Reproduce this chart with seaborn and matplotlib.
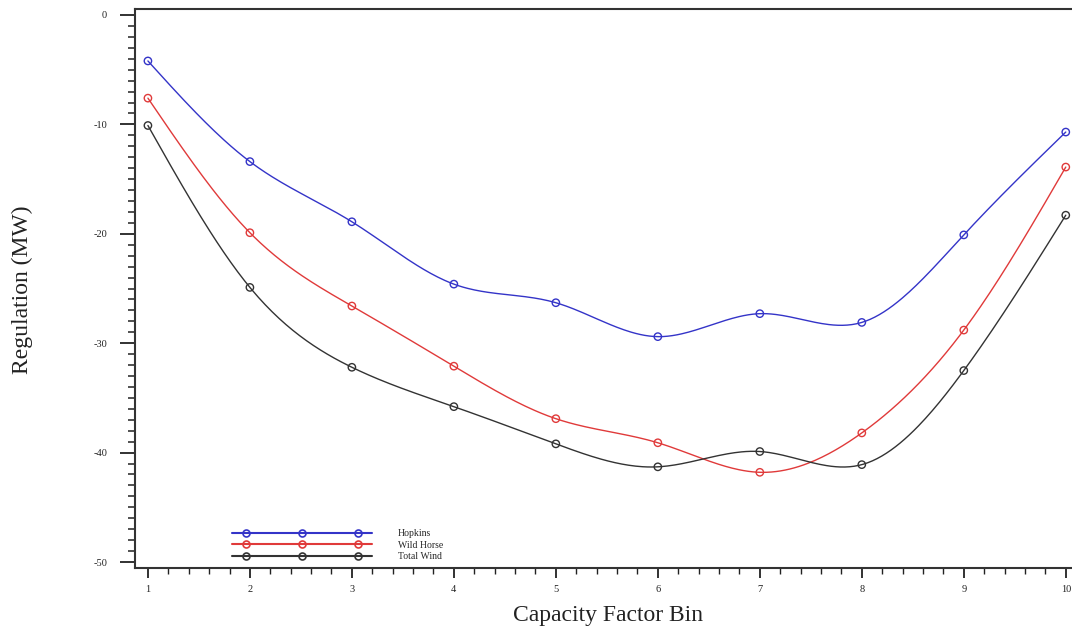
"""
Regulation (MW) by capacity factor bin for Hopkins, Wild Horse and total wind.
"""
import numpy as np
import pandas as pd
from matplotlib import pyplot as plt
from matplotlib.lines import Line2D
from matplotlib.legend_handler import HandlerLine2D, HandlerTuple
from matplotlib.ticker import MultipleLocator
import seaborn as sns

# Data
bins = [1, 2, 3, 4, 5, 6, 7, 8, 9, 10]
hopkins = [-4.2, -13.4, -18.9, -24.6, -26.3, -29.4, -27.3, -28.1, -20.1, -10.7]
wild_horse = [-7.6, -19.9, -26.6, -32.1, -36.9, -39.1, -41.8, -38.2, -28.8, -13.9]
total_wind = [-10.1, -24.9, -32.2, -35.8, -39.2, -41.3, -39.9, -41.1, -32.5, -18.3]

series_names = ["Hopkins", "Wild Horse", "Total Wind"]
series_values = [hopkins, wild_horse, total_wind]
colors = ["#3434c8", "#e03a3a", "#333333"]


def smooth_curve(x, y, n=400):
    """Natural cubic spline through the points, only for drawing the line."""
    x = np.asarray(x, float)
    y = np.asarray(y, float)
    k = len(x)
    h = np.diff(x)
    A = np.zeros((k, k))
    r = np.zeros(k)
    A[0, 0] = A[-1, -1] = 1.0
    for i in range(1, k - 1):
        A[i, i - 1] = h[i - 1]
        A[i, i] = 2 * (h[i - 1] + h[i])
        A[i, i + 1] = h[i]
        r[i] = 6 * ((y[i + 1] - y[i]) / h[i] - (y[i] - y[i - 1]) / h[i - 1])
    m = np.linalg.solve(A, r)
    xs = np.linspace(x[0], x[-1], n)
    idx = np.clip(np.searchsorted(x, xs) - 1, 0, k - 2)
    x0, x1 = x[idx], x[idx + 1]
    y0, y1 = y[idx], y[idx + 1]
    m0, m1 = m[idx], m[idx + 1]
    hh = x1 - x0
    t0 = x1 - xs
    t1 = xs - x0
    ys = (m0 * t0**3 + m1 * t1**3) / (6 * hh) + (y0 / hh - m0 * hh / 6) * t0 + (
        y1 / hh - m1 * hh / 6
    ) * t1
    return xs, ys


sns.set_style("ticks")
plt.rcParams["font.family"] = ["Liberation Serif", "DejaVu Serif"]

fig = plt.figure(figsize=(10.72, 6.28), dpi=100)
ax = fig.add_axes([0.1259, 0.0955, 0.874, 0.8902])

for name, vals, color in zip(series_names, series_values, colors):
    xs, ys = smooth_curve(bins, vals)
    sns.lineplot(x=xs, y=ys, color=color, lw=1.0, ax=ax, sort=False)
    sns.scatterplot(
        x=bins,
        y=vals,
        marker="o",
        s=28,
        facecolor="none",
        edgecolor=color,
        linewidth=1.0,
        ax=ax,
        zorder=5,
    )

# Axes limits and ticks
ax.set_xlim(0.873, 10.06)
ax.set_ylim(-50.55, 0.55)
ax.xaxis.set_minor_locator(MultipleLocator(0.2))
ax.yaxis.set_minor_locator(MultipleLocator(1))
ax.set_xticks(bins)
ax.set_yticks([0, -10, -20, -30, -40, -50])
ax.set_yticklabels(["0", "-10", "-20", "-30", "-40", "-50"])
ax.tick_params(axis="y", which="major", length=11, width=1.3, pad=9, labelsize=7.5, colors="#222222")
ax.tick_params(axis="y", which="minor", length=5, width=1.1, colors="#222222")
ax.tick_params(axis="x", which="major", length=7, width=1.3, pad=5, labelsize=7.5, colors="#222222")
ax.tick_params(axis="x", which="minor", length=4, width=1.0, colors="#222222")
for side in ["left", "bottom", "top"]:
    ax.spines[side].set_linewidth(1.5)
    ax.spines[side].set_color("#333333")
ax.spines["right"].set_visible(False)

# Axis labels
ax.set_xlabel("Capacity Factor Bin", fontsize=17, color="#222222")
ax.xaxis.set_label_coords(0.505, -0.066)
ax.set_ylabel("Regulation (MW)", fontsize=17, color="#222222")
ax.yaxis.set_label_coords(-0.109, 0.497)

# Legend: full-length line with three inset markers on top
handles = []
hmap = {}
for c in colors:
    line_part = Line2D([], [], color=c, lw=1.5)
    mark_part = Line2D([], [], color=c, lw=0, marker="o", markersize=5,
                       markerfacecolor="none", markeredgewidth=1.2)
    hmap[line_part] = HandlerLine2D(marker_pad=0)
    hmap[mark_part] = HandlerLine2D(marker_pad=1.45)
    handles.append((line_part, mark_part))
hmap[tuple] = HandlerTuple(ndivide=1)

ax.legend(
    handles,
    series_names,
    handler_map=hmap,
    loc="lower left",
    bbox_to_anchor=(0.1035, 0.012),
    frameon=False,
    fontsize=7,
    numpoints=3,
    handlelength=14.4,
    handletextpad=2.7,
    labelspacing=0.25,
    borderpad=0,
    borderaxespad=0,
)

plt.savefig("out.png", dpi=100)
